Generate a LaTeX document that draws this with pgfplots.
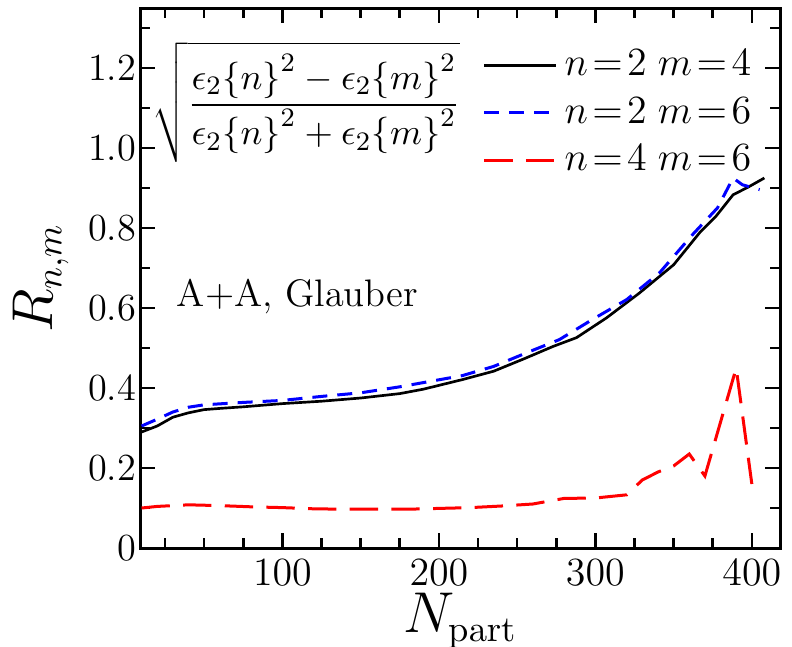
\documentclass[border=0pt]{standalone}
\usepackage{pgfplots}
\pgfplotsset{compat=1.18}
\definecolor{myblue}{RGB}{0,0,255}
\definecolor{myred}{RGB}{255,0,0}
\begin{document}
\begin{tikzpicture}
\begin{axis}[
  scale only axis, width=192pt, height=162pt,
  xmin=9, xmax=418, ymin=0, ymax=1.35,
  xtick={100,200,300,400},
  minor xtick={25,50,75,125,150,175,225,250,275,325,350,375},
  ytick={0,0.2,0.4,0.6,0.8,1.0,1.2},
  yticklabels={0,0.2,0.4,0.6,0.8,1.0,1.2},
  minor ytick={0.1,0.3,0.5,0.7,0.9,1.1,1.3},
  tick align=inside,
  major tick length=4.5pt, minor tick length=3pt,
  tick style={line width=0.8pt, black},
  axis line style={line width=0.9pt},
  ticklabel style={font=\fontsize{11.5}{13}\selectfont},
  yticklabel style={inner xsep=1pt},
  xlabel={$N_{\mathrm{part}}$},
  ylabel={$R_{n,m}$},
  every axis x label/.style={at={(axis description cs:0.5,-0.135)},anchor=center,font=\fontsize{16}{18}\selectfont},
  every axis y label/.style={at={(axis description cs:-0.155,0.5)},anchor=center,rotate=90,font=\fontsize{16}{18}\selectfont},
  legend style={draw=none, fill=none, at={(axis description cs:0.519,0.948)}, anchor=north west,
    font=\fontsize{12}{14}\selectfont, /tikz/row sep=1pt},
  legend cell align=left,
  legend image code/.code={\draw[#1] (0pt,0pt) -- (21.6pt,0pt);},
  clip=false,
]
\addplot[black, line width=0.8pt] coordinates {
(10,0.290) (20,0.305) (30,0.327) (40,0.338) (50,0.346) (60,0.349) (75,0.353)
(100,0.361) (125,0.367) (150,0.375) (175,0.386) (190,0.397) (215,0.421)
(235,0.442) (255,0.474) (273,0.504) (288,0.526) (307,0.575) (328,0.637)
(350,0.708) (367,0.790) (377,0.829) (388,0.883) (398,0.903) (408,0.925)
};
\addlegendentry{$n\mkern2mu{=}\mkern2mu2\;m\mkern2mu{=}\mkern2mu4$}
\addplot[myblue, line width=0.9pt, dash pattern=on 4.5pt off 3pt] coordinates {
(10,0.305) (20,0.322) (30,0.340) (40,0.352) (50,0.358) (75,0.364) (100,0.369)
(125,0.379) (150,0.388) (175,0.403) (215,0.431) (235,0.454) (256,0.488)
(277,0.521) (298,0.571) (320,0.621) (341,0.688) (362,0.783) (378,0.850)
(388,0.925) (394,0.908) (405,0.896)
};
\addlegendentry{$n\mkern2mu{=}\mkern2mu2\;m\mkern2mu{=}\mkern2mu6$}
\addplot[myred, line width=0.9pt, dash pattern=on 8.5pt off 4pt] coordinates {
(10,0.100) (20,0.104) (40,0.108) (60,0.106) (80,0.103) (100,0.101) (120,0.098)
(140,0.097) (160,0.097) (180,0.097) (200,0.099) (220,0.101) (240,0.105)
(260,0.110) (280,0.124) (300,0.125) (320,0.133) (330,0.170) (340,0.190)
(350,0.205) (360,0.235) (370,0.180) (390,0.450) (400,0.160)
};
\addlegendentry{$n\mkern2mu{=}\mkern2mu4\;m\mkern2mu{=}\mkern2mu6$}
\node[font=\fontsize{11.5}{13}\selectfont] at (axis cs:109.6,0.628) {A+A, Glauber};
\node[font=\fontsize{11}{13}\selectfont] at (axis cs:115.3,1.115)
  {$\sqrt{\displaystyle\frac{\epsilon_2\bigl\{n\bigr\}^2-\epsilon_2\bigl\{m\bigr\}^2}{\epsilon_2\bigl\{n\bigr\}^2+\epsilon_2\bigl\{m\bigr\}^2}}$};
\end{axis}
\pgfresetboundingbox
\path[use as bounding box] ([shift={(-42pt,-29.4pt)}]current axis.south west) rectangle ([shift={(3.6pt,2.4pt)}]current axis.north east);
\end{tikzpicture}
\end{document}
